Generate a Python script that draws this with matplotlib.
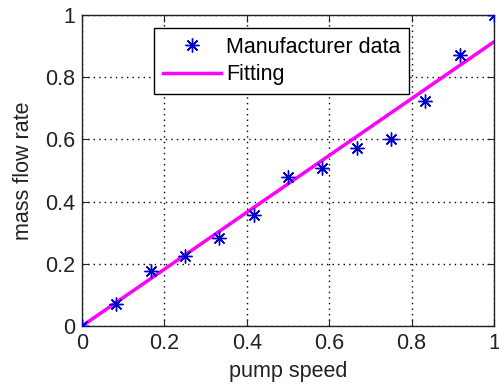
import matplotlib
matplotlib.use('Agg')
import matplotlib.pyplot as plt

# manufacturer data
pump_speed = [0, 1/12, 2/12, 3/12, 4/12, 5/12, 6/12, 7/12, 8/12, 9/12, 10/12, 11/12, 1]
mass_flow = [0, 0.071, 0.178, 0.225, 0.282, 0.357, 0.48, 0.509, 0.573, 0.60, 0.724, 0.871, 1.0]

# fitted line endpoints
fit_x = [0, 1]
fit_y = [0, 0.914]

ticks = [0, 0.2, 0.4, 0.6, 0.8, 1]
tick_labels = ['0', '0.2', '0.4', '0.6', '0.8', '1']

plt.rcParams['font.family'] = ['Liberation Sans', 'DejaVu Sans']
fs = 15.5

fig = plt.figure(figsize=(4.99, 3.90), dpi=100)
ax = fig.add_axes([0.1643, 0.164, 0.8257, 0.7975])

# MATLAB style asterisk marker
ax.plot(pump_speed, mass_flow, linestyle='none', marker=(8, 2, 0), color='#0000cc',
        markersize=10, markeredgewidth=1.0, label='Manufacturer data', zorder=3)
ax.plot(fit_x, fit_y, '-', color='#ff00ff', linewidth=2.5, label='Fitting', zorder=2)

ax.set_xlim(0, 1)
ax.set_ylim(0, 1)
ax.set_xticks(ticks)
ax.set_yticks(ticks)
ax.set_xticklabels(tick_labels)
ax.set_yticklabels(tick_labels)
ax.tick_params(direction='in', top=True, right=True, labelsize=fs, length=5, pad=5, colors='#222222')
ax.grid(True, linestyle=(0, (1, 3)), color='black', linewidth=1)
for s in ax.spines.values():
    s.set_color('#222222')
    s.set_linewidth(1)

ax.set_xlabel('pump speed', fontsize=fs, labelpad=5, color='#222222')
ax.set_ylabel('mass flow rate', fontsize=fs, labelpad=8, color='#222222')

leg = ax.legend(loc='upper left', bbox_to_anchor=(0.175, 0.958), borderaxespad=0,
                fontsize=fs, frameon=True, fancybox=False, edgecolor='black', framealpha=1,
                borderpad=0.4, handlelength=2.7, labelspacing=0.3, handletextpad=0.25)
leg.get_frame().set_linewidth(1)

fig.savefig('out.png', dpi=100)
